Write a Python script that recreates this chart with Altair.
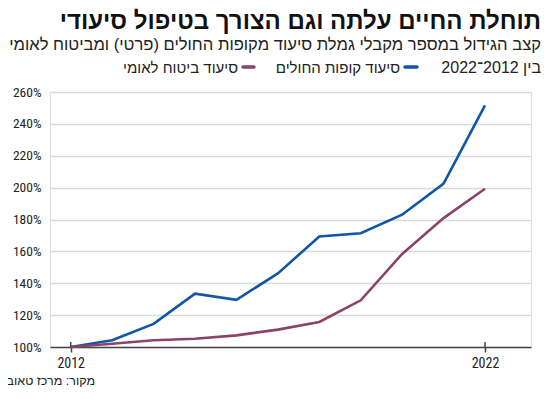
import altair as alt
import pandas as pd

# ---- data ----
years = list(range(2012, 2023))
kupot = [100, 104.2, 114.5, 133.5, 129.6, 146.2, 169.3, 171.4, 183.0, 202.5, 251.6]
bituah = [100, 102.0, 104.2, 105.2, 107.3, 110.9, 115.7, 129.3, 158.4, 180.9, 199.3]
series_names = ["סיעוד קופות החולים", "סיעוד ביטוח לאומי"]
series_colors = ["#1157a4", "#8b4469"]
y_ticks = [100, 120, 140, 160, 180, 200, 220, 240, 260]
x_ticks = [2012, 2022]

title_text = "תוחלת החיים עלתה וגם הצורך בטיפול סיעודי"
subtitle_text = "קצב הגידול במספר מקבלי גמלת סיעוד מקופות החולים (פרטי) ומביטוח לאומי"
period_text = "בין 2012־2022"
source_text = "מקור: מרכז טאוב"

df = pd.DataFrame({
    "year": years * 2,
    "value": kupot + bituah,
    "series": [series_names[0]] * len(years) + [series_names[1]] * len(years),
})

W, H = 481, 255
HEB = "Liberation Sans"
NUM = "Roboto Condensed, Roboto"

xscale = alt.Scale(domain=[2011.5, 2023.11], nice=False, zero=False)
yscale = alt.Scale(domain=[100, 260], nice=False, zero=False)

lines = alt.Chart(df).mark_line(strokeWidth=2.6, strokeJoin="miter").encode(
    x=alt.X("year:Q", scale=xscale,
            axis=alt.Axis(values=x_ticks, format="d", grid=False, title=None,
                          domainColor="#444", domainWidth=1.5,
                          tickColor="#444", tickWidth=1.5, tickSize=5,
                          labelFont=NUM, labelFontSize=14, labelColor="#222",
                          labelPadding=4)),
    y=alt.Y("value:Q", scale=yscale,
            axis=alt.Axis(values=y_ticks, labelExpr="datum.value + '%'", title=None,
                          grid=True, gridColor="#d9d9d9", gridWidth=1.5,
                          domain=False, ticks=False, labelPadding=9,
                          labelFont=NUM, labelFontSize=13.5, labelColor="#222")),
    color=alt.Color("series:N", scale=alt.Scale(domain=series_names, range=series_colors),
                    legend=None),
)

ticks_up = alt.Chart(pd.DataFrame({"year": x_ticks})).mark_rule(
    color="#444", strokeWidth=1.5).encode(
    x=alt.X("year:Q", scale=xscale),
    y=alt.value(H - 5), y2=alt.value(H),
)

def txt(s, x, y, size, bold=False, font=HEB, align="right", color="#222"):
    return alt.Chart(pd.DataFrame({"t": [s]})).mark_text(
        align=align, baseline="alphabetic", font=font, fontSize=size,
        fontWeight="bold" if bold else "normal", color=color).encode(
        text="t:N", x=alt.value(x), y=alt.value(y))

def dash(x1, x2, y, color):
    return alt.Chart(pd.DataFrame({"c": [color]})).mark_rule(
        strokeWidth=3.5, strokeCap="round", color=color).encode(
        x=alt.value(x1), x2=alt.value(x2), y=alt.value(y))

texts = [
    txt(title_text, 491, -63, 24, bold=True, color="#111"),
    txt(subtitle_text, 491, -42, 16.6),
    txt(period_text, 491, -19, 16),
    dash(355, 367, -25, series_colors[0]),
    txt(series_names[0], 350, -19, 15),
    dash(193, 204, -25, series_colors[1]),
    txt(series_names[1], 188, -19, 15),
    txt(source_text, 45, 293, 12.5),
]

chart = alt.layer(lines, ticks_up, *texts).properties(
    width=W, height=H,
    autosize=alt.AutoSizeParams(type="none"),
    padding={"left": 42, "top": 84, "right": 11, "bottom": 44},
).configure_view(stroke=None).configure(background="white")

chart.save("out.html", embed_options={"renderer": "svg", "actions": False})
